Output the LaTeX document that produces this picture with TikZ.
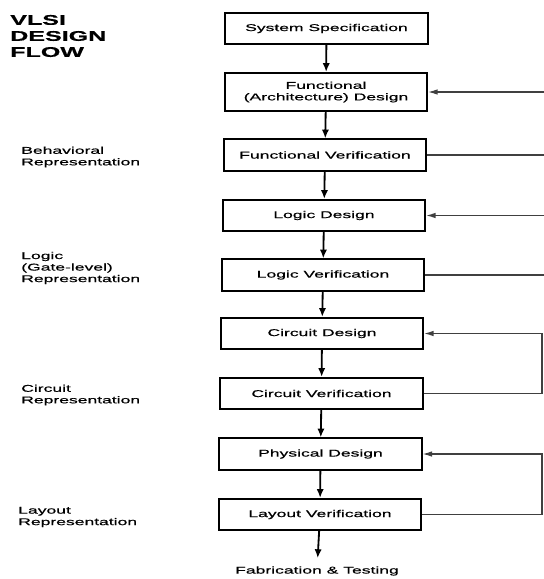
\documentclass[tikz,border=0pt]{standalone}
\usepackage{fontspec}
\setmainfont[FakeStretch=1.78, FakeBold=0.6]{Liberation Sans}
\usetikzlibrary{arrows.meta}
\tikzstyle{stage}=[draw, line width=1.4pt, minimum width=5.05cm, minimum height=0.78cm, inner sep=1pt, align=center, font=\fontsize{7}{8.2}\selectfont]
\tikzstyle{rep}=[anchor=west, align=left, inner sep=0, font=\fontsize{7}{8.2}\selectfont]
\tikzstyle{flow}=[line width=1.3pt, -{Latex[length=0.22cm, width=0.18cm]}]
\tikzstyle{back}=[line width=0.9pt, black!75, -{Latex[length=0.24cm, width=0.14cm]}]

\begin{document}
\begin{tikzpicture}[x=0.025cm, y=-0.025cm]
\useasboundingbox (0,0) rectangle (544,579);
\clip (0,0) rectangle (544,579);
\node at (10,36)[anchor=west, align=left, inner sep=0, font=\fontsize{10}{11.4}\selectfont\bfseries](title){VLSI\\DESIGN\\FLOW};
\node at (326.5,28.5)[stage](1){System Specification};
\node at (326,92)[stage, minimum height=0.95cm](2){Functional\\(Architecture) Design};
\node at (325,155)[stage](3){Functional Verification};
\node at (324,215.5)[stage](4){Logic Design};
\node at (323,275)[stage](5){Logic Verification};
\node at (322,333.5)[stage](6){Circuit Design};
\node at (321.5,393.5)[stage](7){Circuit Verification};
\node at (320.5,454)[stage](8){Physical Design};
\node at (320,514.5)[stage](9){Layout Verification};
\node at (317,571)[inner sep=0.2cm, font=\fontsize{7}{8.2}\selectfont](fab){Fabrication \& Testing};
\node at (21,157)[rep](r1){Behavioral\\Representation};
\node at (21,268)[rep](r2){Logic\\(Gate-level)\\Representation};
\node at (21,395)[rep](r3){Circuit\\Representation};
\node at (18,517)[rep](r4){Layout\\Representation};
\coordinate (a) at (556,155);
\coordinate (b) at (556,92);
\coordinate (c) at (556,275);
\coordinate (d) at (556,215.5);
\coordinate (e) at (542,393.5);
\coordinate (f) at (542,333.5);
\coordinate (g) at (542,514.5);
\coordinate (h) at (542,454);
\draw[flow] (1)--(2);
\draw[flow] (2)--(3);
\draw[flow] (3)--(4);
\draw[flow] (4)--(5);
\draw[flow] (5)--(6);
\draw[flow] (6)--(7);
\draw[flow] (7)--(8);
\draw[flow] (8)--(9);
\draw[flow] (9)--(fab);
\draw[back] (3)--(a)--(b)--(2);
\draw[back] (5)--(c)--(d)--(4);
\draw[back] (7)--(e)--(f)--(6);
\draw[back] (9)--(g)--(h)--(8);
\end{tikzpicture}
\end{document}
